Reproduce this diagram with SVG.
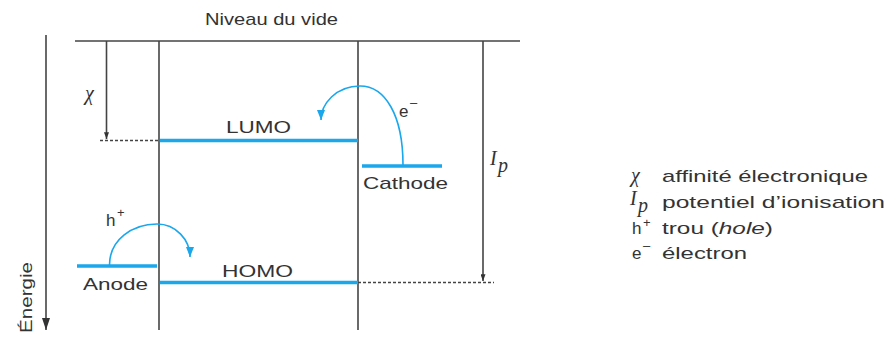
<svg xmlns="http://www.w3.org/2000/svg" width="886" height="340" viewBox="0 0 886 340">
<defs>
<marker id="ak" viewBox="0 0 8 12" refX="4" refY="12" markerWidth="8" markerHeight="12" markerUnits="userSpaceOnUse" orient="0">
<path d="M0,0 L8,0 L4,12 Z" fill="#333"/>
</marker>
<marker id="sk" viewBox="0 0 6 8" refX="3" refY="8" markerWidth="5" markerHeight="7" markerUnits="userSpaceOnUse" orient="0">
<path d="M0,0 L6,0 L3,8 Z" fill="#333"/>
</marker>
<marker id="ab" viewBox="0 0 8 10" refX="4" refY="10" markerWidth="8" markerHeight="10" markerUnits="userSpaceOnUse" orient="0">
<path d="M0,0 L8,0 L4,10 Z" fill="#1aa7ec"/>
</marker>
</defs>
<style>
.ln{stroke:#444;stroke-width:1.6;fill:none}
.dash{stroke:#444;stroke-width:1.5;stroke-dasharray:3,2;fill:none}
.lvl{stroke:#1aa7ec;stroke-width:3.5;fill:none}
.arc{stroke:#1aa7ec;stroke-width:1.6;fill:none}
text{font-family:"Liberation Sans",Arial,sans-serif;font-size:17px;fill:#333}
.it{font-family:"Liberation Serif","Times New Roman",serif;font-style:italic;font-size:20px}
.sup{font-size:13px}
</style>
<rect width="886" height="340" fill="#fff"/>
<g id="connectors">
<line class="ln" x1="75" y1="41" x2="520" y2="41"/>
<line class="ln" x1="46" y1="35" x2="46" y2="330" marker-end="url(#ak)"/>
<line class="ln" x1="159" y1="41" x2="159" y2="330"/>
<line class="ln" x1="358" y1="41" x2="358" y2="330"/>
<line class="ln" x1="106.5" y1="41" x2="106.5" y2="139" marker-end="url(#sk)"/>
<line class="dash" x1="100" y1="140.5" x2="159" y2="140.5"/>
<line class="ln" x1="483" y1="41" x2="483" y2="281" marker-end="url(#sk)"/>
<line class="dash" x1="358" y1="282.5" x2="494" y2="282.5"/>
<path class="arc" d="M403,165 C403,115 385,86 360,86 C336,86 321,104 321,120" marker-end="url(#ab)"/>
<path class="arc" d="M109.5,265 C109.5,240 132,224 157,224 C176,224 190,240 190,257" marker-end="url(#ab)"/>
</g>
<g id="vacuum"><text x="205" y="25" textLength="133" lengthAdjust="spacingAndGlyphs">Niveau du vide</text></g>
<g id="energy"><text transform="translate(32,333) rotate(-90)" textLength="71" lengthAdjust="spacingAndGlyphs">Énergie</text></g>
<g id="lumo">
<line class="lvl" x1="160" y1="140.5" x2="358" y2="140.5"/>
<text x="226" y="133" textLength="65" lengthAdjust="spacingAndGlyphs">LUMO</text>
</g>
<g id="homo">
<line class="lvl" x1="160" y1="282.5" x2="358" y2="282.5"/>
<text x="222" y="277" textLength="71" lengthAdjust="spacingAndGlyphs">HOMO</text>
</g>
<g id="cathode">
<line class="lvl" x1="362" y1="166" x2="442" y2="166"/>
<text x="363" y="189" textLength="85" lengthAdjust="spacingAndGlyphs">Cathode</text>
</g>
<g id="anode">
<line class="lvl" x1="77" y1="266" x2="157" y2="266"/>
<text x="83" y="290" textLength="65" lengthAdjust="spacingAndGlyphs">Anode</text>
</g>
<g id="chi"><text class="it" x="85" y="100">χ</text></g>
<g id="ip"><text class="it" x="490" y="165">I</text><text class="it" x="498" y="172" font-size="18">p</text></g>
<g id="eminus"><text x="399" y="117">e</text><text class="sup" x="410" y="107">–</text></g>
<g id="hplus"><text x="106" y="226">h</text><text class="sup" x="117" y="217">+</text></g>
<g id="legend">
<text class="it" x="631" y="182">χ</text>
<text x="662" y="182" textLength="206" lengthAdjust="spacingAndGlyphs">affinité électronique</text>
<text class="it" x="630" y="205">I</text><text class="it" x="638" y="212" font-size="18">p</text>
<text x="662" y="208" textLength="223" lengthAdjust="spacingAndGlyphs">potentiel d’ionisation</text>
<text x="632" y="234">h</text><text class="sup" x="643" y="227">+</text>
<text x="662" y="234" textLength="111" lengthAdjust="spacingAndGlyphs">trou (<tspan font-style="italic">hole</tspan>)</text>
<text x="632" y="259">e</text><text class="sup" x="643" y="250">–</text>
<text x="662" y="259" textLength="85" lengthAdjust="spacingAndGlyphs">électron</text>
</g>
</svg>
